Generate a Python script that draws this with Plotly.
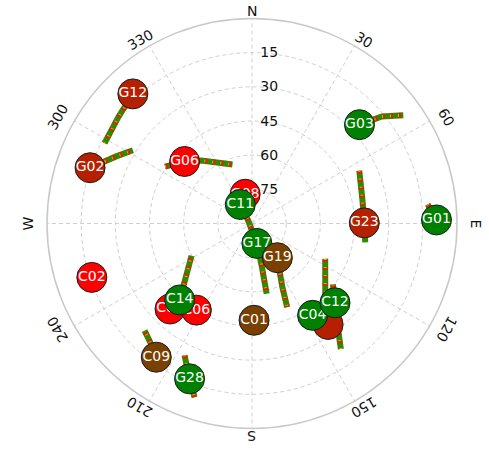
import math
import plotly.graph_objects as go

# Satellite positions: azimuth (deg, clockwise from north) and elevation (deg)
sat_names = ["G12", "G02", "G06", "G08", "C11", "G17", "G19", "G23", "G01", "G03",
             "", "C04", "C12", "C01", "C02", "C03", "C06", "C14", "C09", "G28"]
sat_azimuth = [317.4, 289.0, 312.6, 346.8, 328.3, 166.2, 143.5, 89.7, 88.9, 47.4,
               143.0, 146.6, 133.7, 178.8, 251.4, 223.8, 212.7, 223.4, 215.6, 201.9]
sat_elevation = [12.7, 14.8, 49.8, 76.8, 80.2, 81.0, 71.3, 40.7, 9.0, 25.9,
                 34.5, 41.7, 39.6, 47.5, 15.8, 38.0, 44.8, 43.8, 17.8, 16.5]
sat_state = ["lost", "lost", "weak", "weak", "good", "good", "float", "lost", "good", "good",
             "lost", "good", "good", "float", "weak", "weak", "weak", "good", "float", "good"]

# Recent tracks of each satellite
track_names = ["G12", "G02", "G06", "G08", "G17", "G19", "G23", "G01", "G03",
               "", "C12", "C14", "C09", "G28"]
track_azimuth = [
    [317.4, 308.4, 298.6],
    [289.0, 296.3, 301.6],
    [303.2, 312.6, 321.2, 341.7],
    [329.6, 346.8],
    [319.1, 166.2, 167.1, 168.2],
    [143.5, 154.4, 157.2],
    [63.8, 77.7, 89.7, 99.5],
    [83.8, 88.9],
    [47.4, 50.5, 54.4],
    [115.8, 135.0, 146.2],
    [127.0, 133.7, 140.5, 144.7],
    [223.4, 241.9],
    [215.6, 221.1, 225.1],
    [207.1, 201.9, 198.3],
]
track_elevation = [
    [12.7, 15.0, 16.3],
    [14.8, 23.5, 28.6],
    [44.4, 49.8, 54.5, 62.7],
    [73.1, 76.8],
    [86.7, 81.0, 70.8, 58.5],
    [71.3, 59.3, 50.2],
    [37.5, 40.4, 40.7, 39.6],
    [12.4, 9.0],
    [25.9, 16.1, 8.3],
    [54.3, 44.5, 32.3],
    [45.5, 39.6, 30.8, 22.5],
    [43.8, 59.9],
    [17.8, 21.6, 23.4],
    [25.0, 16.5, 9.6],
]

# Compass / azimuth labels
azimuth_ticks = [0, 30, 60, 90, 120, 150, 180, 210, 240, 270, 300, 330]
azimuth_text = ["N", "30", "60", "E", "120", "150", "S", "210", "240", "W", "300", "330"]
elevation_ticks = [15, 30, 45, 60, 75]

state_color = {"good": "#008000", "weak": "#FF0000", "lost": "#B42000", "float": "#7A4000"}

W, H = 489, 449
dom_x = [0.0961, 0.9346]
dom_y = [0.0457, 0.9588]

fig = go.Figure()

# Tracks: green base with red and yellow-green speckles on top
for az, el in zip(track_azimuth, track_elevation):
    fig.add_trace(go.Scatterpolar(theta=az, r=el, mode="lines",
                                  line=dict(color="#2e8b00", width=6),
                                  hoverinfo="skip"))
    fig.add_trace(go.Scatterpolar(theta=az, r=el, mode="lines",
                                  line=dict(color="#e02000", width=5, dash="3px,5px"),
                                  hoverinfo="skip"))
    fig.add_trace(go.Scatterpolar(theta=az, r=el, mode="lines",
                                  line=dict(color="#9acd32", width=3, dash="1px,7px"),
                                  hoverinfo="skip"))

# Satellite markers, one trace each so later ones sit on top
for name, az, el, st in zip(sat_names, sat_azimuth, sat_elevation, sat_state):
    fig.add_trace(go.Scatterpolar(
        theta=[az], r=[el], mode="markers+text", text=[name],
        textposition="middle center",
        textfont=dict(family="DejaVu Sans", size=14, color="white"),
        marker=dict(size=30, color=state_color[st], line=dict(color="#1a1a1a", width=1)),
        hoverinfo="text"))

# Rotated azimuth labels around the rim
cx = (dom_x[0] + dom_x[1]) / 2 * W
cy = (1 - (dom_y[0] + dom_y[1]) / 2) * H
rx, ry = 224, 212
annotations = []
for ang, txt in zip(azimuth_ticks, azimuth_text):
    a = math.radians(ang)
    px = cx + rx * math.sin(a)
    py = cy - ry * math.cos(a)
    annotations.append(dict(x=px / W, y=1 - py / H, xref="paper", yref="paper",
                            text=txt, showarrow=False, textangle=ang,
                            xanchor="center", yanchor="middle",
                            font=dict(family="DejaVu Sans", size=14, color="#111111")))

fig.update_layout(
    width=W, height=H,
    margin=dict(l=0, r=0, t=0, b=0),
    paper_bgcolor="white",
    showlegend=False,
    annotations=annotations,
    polar=dict(
        domain=dict(x=dom_x, y=dom_y),
        bgcolor="white",
        angularaxis=dict(
            rotation=90, direction="clockwise",
            tickmode="array", tickvals=azimuth_ticks, showticklabels=False,
            ticks="", showline=True, linecolor="#c8c8c8", linewidth=1.5,
            showgrid=True, gridcolor="#cfcfcf", griddash="4px,3px", gridwidth=1,
        ),
        radialaxis=dict(
            range=[90, 0], tickmode="array", tickvals=elevation_ticks,
            angle=90, side="clockwise", tickangle=90,
            showline=False, ticks="outside", ticklen=5, tickcolor="rgba(0,0,0,0)",
            showgrid=True, gridcolor="#cfcfcf", griddash="4px,3px", gridwidth=1,
            tickfont=dict(family="DejaVu Sans", size=14, color="#111111"),
        ),
    ),
)

fig.write_html("out.html")
